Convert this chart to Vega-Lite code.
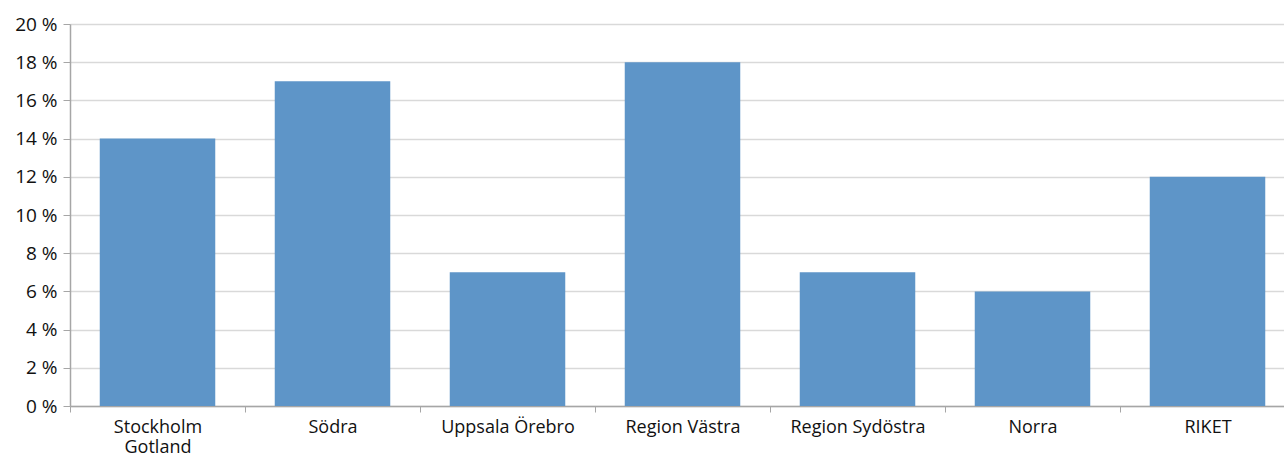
{
  "$schema": "https://vega.github.io/schema/vega-lite/v6.json",
  "autosize": "none",
  "width": 1225,
  "height": 382,
  "padding": {"left": 70, "top": 24, "right": 0, "bottom": 51},
  "background": "white",
  "config": {"view": {"stroke": null}, "font": "Open Sans"},
  "data": {"values": [
    {"region": "Stockholm Gotland", "value": 14},
    {"region": "Södra", "value": 17},
    {"region": "Uppsala Örebro", "value": 7},
    {"region": "Region Västra", "value": 18},
    {"region": "Region Sydöstra", "value": 7},
    {"region": "Norra", "value": 6},
    {"region": "RIKET", "value": 12}
  ]},
  "mark": {"type": "bar", "color": "#5E95C8", "width": {"band": 0.66}},
  "encoding": {
    "x": {
      "field": "region", "type": "nominal", "sort": null,
      "scale": {"paddingInner": 0, "paddingOuter": 0},
      "axis": {
        "title": null, "labelAngle": 0, "tickBand": "extent",
        "domainColor": "#a6a6a6", "tickColor": "#a6a6a6", "tickSize": 6, "domainWidth": 1.5,
        "labelFont": "Open Sans", "labelFontSize": 18, "labelColor": "#111111", "labelPadding": 6,
        "labelLineHeight": 20,
        "labelExpr": "datum.value == 'Stockholm Gotland' ? ['Stockholm', 'Gotland'] : datum.value"
      }
    },
    "y": {
      "field": "value", "type": "quantitative",
      "scale": {"domain": [0, 20], "nice": false},
      "axis": {
        "title": null, "values": [0, 2, 4, 6, 8, 10, 12, 14, 16, 18, 20],
        "labelExpr": "datum.value + ' %'",
        "gridColor": "#d9d9d9", "gridWidth": 1.5,
        "domainColor": "#a6a6a6", "tickColor": "#a6a6a6", "tickSize": 7, "domainWidth": 1.5,
        "labelFont": "Open Sans", "labelFontSize": 19, "labelColor": "#111111", "labelPadding": 6
      }
    }
  }
}
